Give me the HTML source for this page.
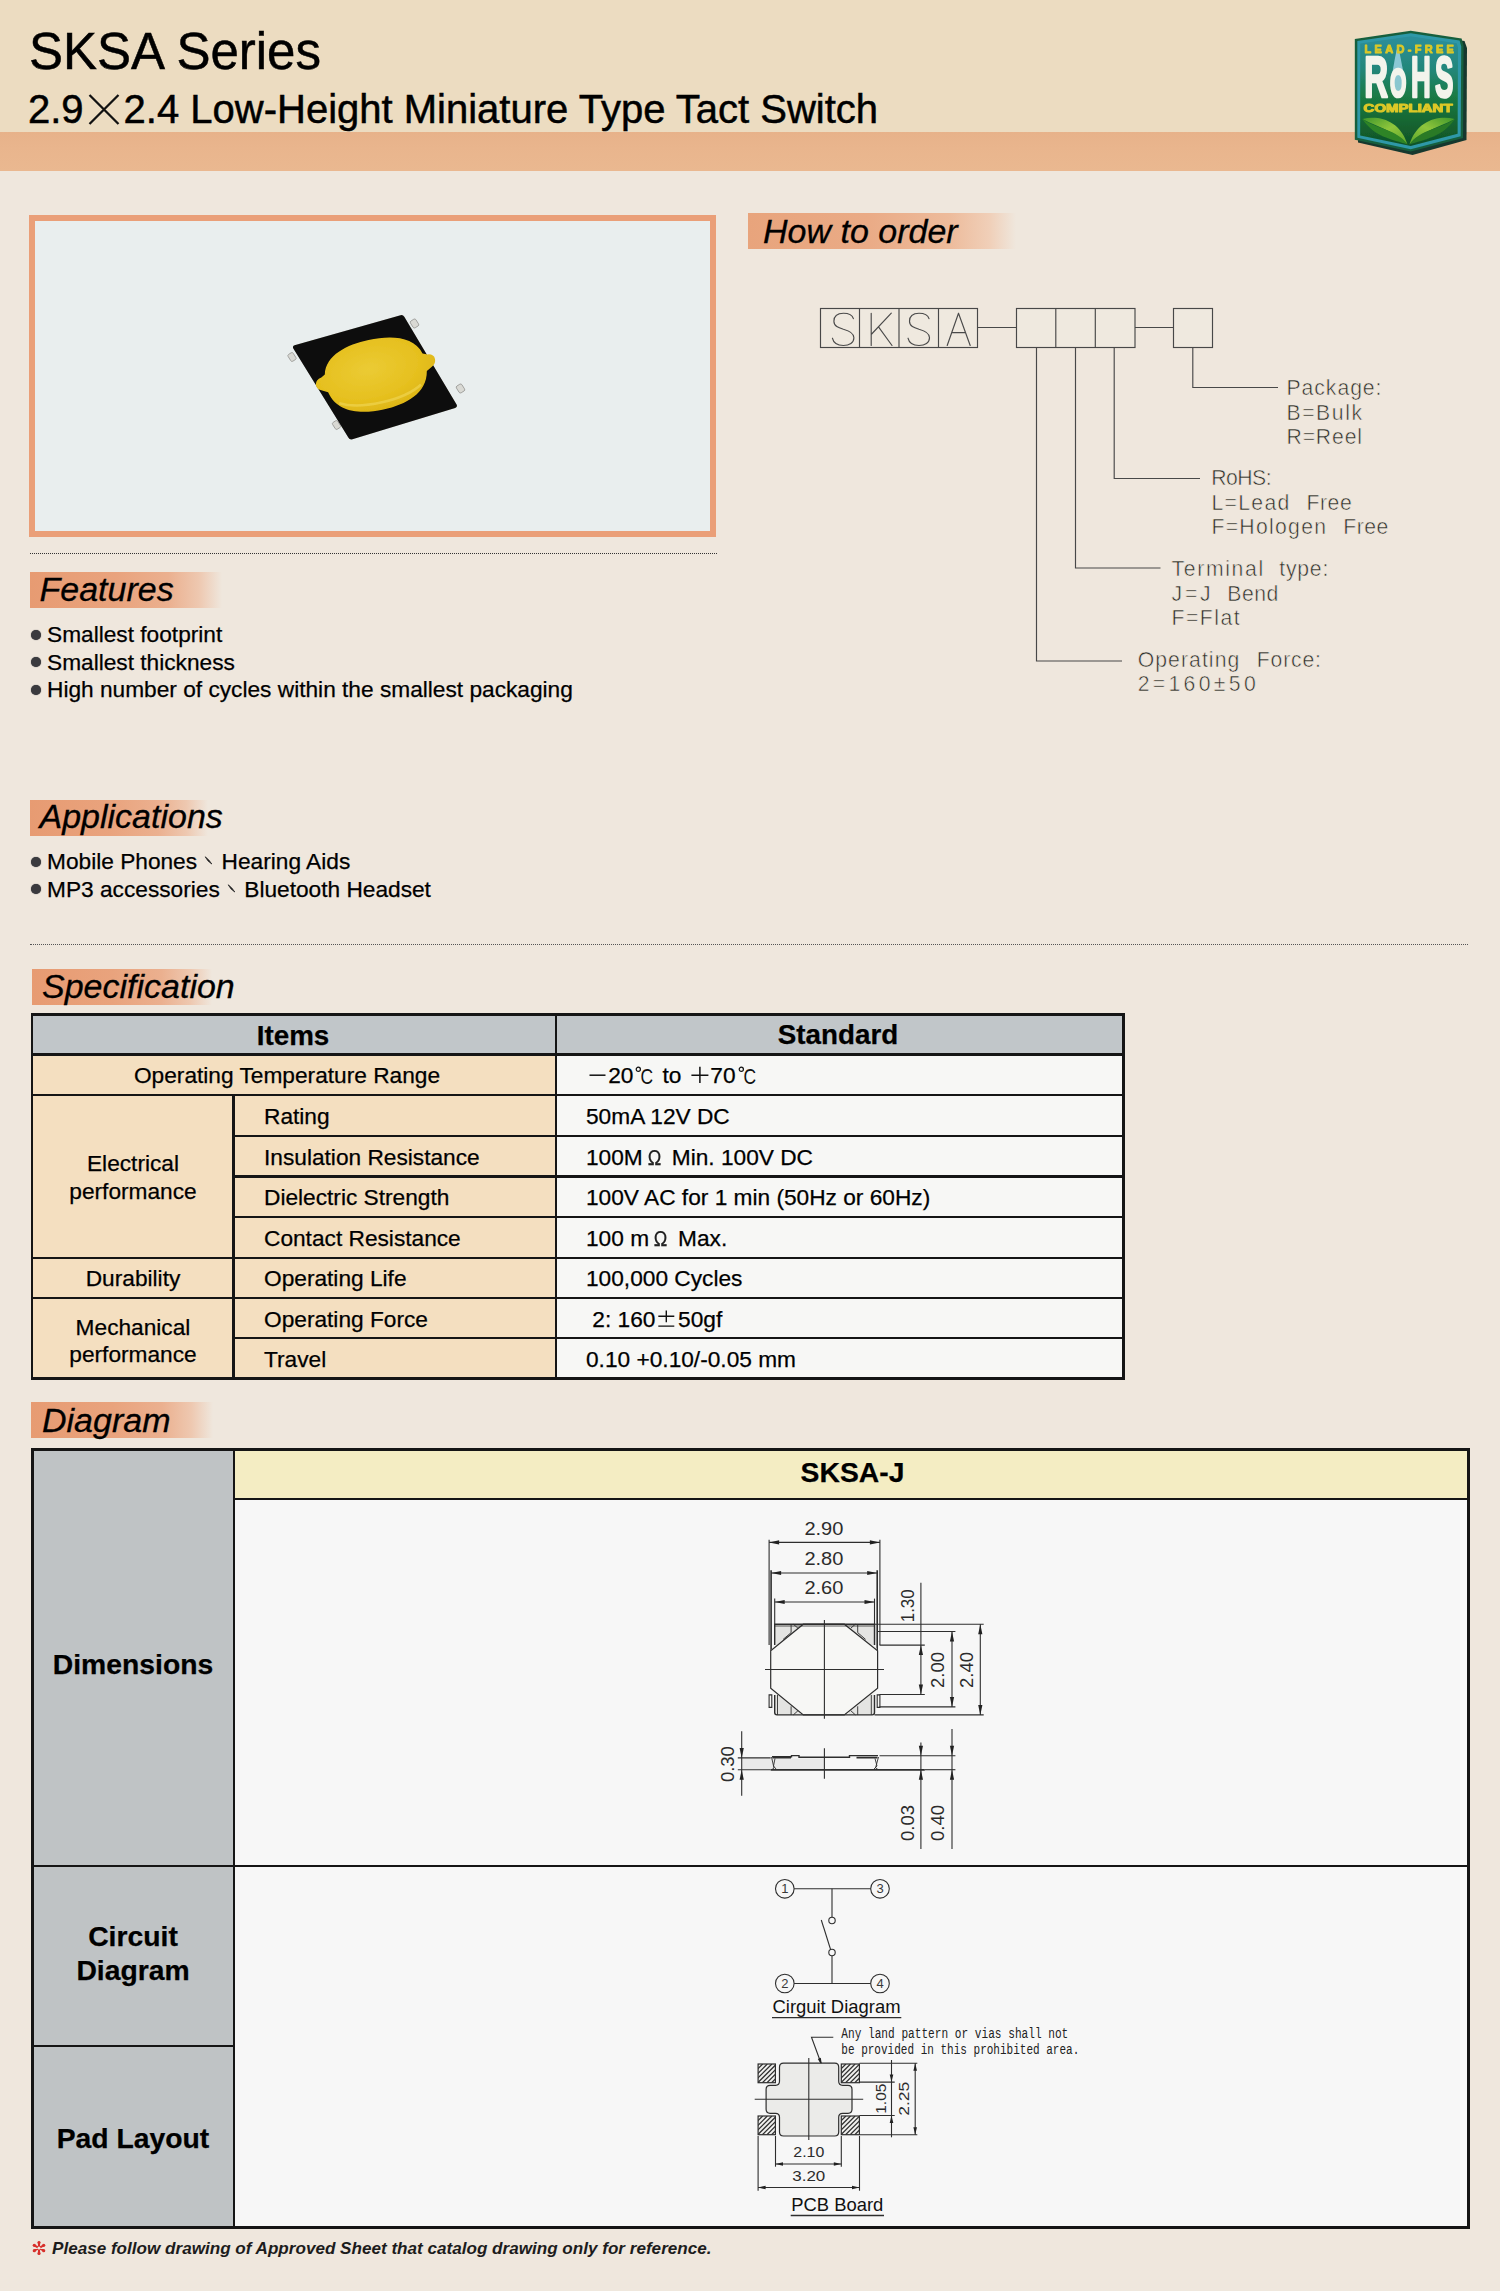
<!DOCTYPE html>
<html>
<head>
<meta charset="utf-8">
<title>SKSA Series</title>
<style>
html,body{margin:0;padding:0;}
body{width:1500px;height:2291px;position:relative;overflow:hidden;background:#efe7dd;font-family:"Liberation Sans",sans-serif;color:#000;}
.abs{position:absolute;}
.t{position:absolute;white-space:nowrap;line-height:1;}
#title,#sub{-webkit-text-stroke:0.5px #000;}
.bul,.st{-webkit-text-stroke:0.25px #000;}
.topbg{left:0;top:0;width:1500px;height:133px;background:#ecdcc1;}
.band{left:0;top:132px;width:1500px;height:38.5px;background:linear-gradient(#e7b28a,#e9b58d 40%,#eab890);}
.sec{position:absolute;height:36px;background:linear-gradient(90deg,#e79b72 0%,#e9a37d 45%,#ebb08f 72%,#eec8b0 88%,rgba(239,231,221,0) 100%);}
.sec span{position:absolute;left:10px;top:0;font-style:italic;font-size:34px;line-height:36px;white-space:nowrap;color:#000;-webkit-text-stroke:0.3px #000;}
.hr{position:absolute;height:0;border-top:1.6px dotted #333;}
.bul{position:absolute;font-size:22.7px;line-height:1;white-space:nowrap;}
.bul i{position:absolute;left:-16.5px;top:6.5px;width:10px;height:10px;border-radius:50%;background:#3a3a3e;box-shadow:0 0 1px #3a3a3e;}
/* spec table */
.cell{position:absolute;box-sizing:border-box;}
.st{position:absolute;white-space:nowrap;font-size:21.3px;line-height:1;}
.ln{position:absolute;background:#1a1a1a;}
</style>
</head>
<body>
<div class="abs topbg"></div>
<div class="abs band"></div>

<!-- TITLE -->
<div class="t" id="title" style="left:29px;top:25.5px;font-size:51px;">SKSA Series</div>
<div class="t" id="sub" style="left:28px;top:88.5px;font-size:40px;">2.9<svg width="40" height="34" viewBox="0 0 40 34" style="display:inline-block;vertical-align:baseline;margin-bottom:-3px;"><path d="M5.5 3L34.5 32M34.5 3L5.5 32" stroke="#111" stroke-width="2.3" fill="none"/></svg>2.4 Low-Height Miniature Type Tact Switch</div>

<!-- PHOTO BOX -->
<div class="abs" style="left:29px;top:214.5px;width:687px;height:322px;box-sizing:border-box;border:6px solid #ea9f78;background:#e9eeee;"></div>
<div class="hr" style="left:30px;top:553.2px;width:687px;"></div>

<!-- SECTION HEADERS -->
<div class="sec" style="left:748px;top:213px;width:268px;background:linear-gradient(90deg,#e8a47c 0%,#eaab86 45%,#edbb9b 75%,#f0cfb8 90%,rgba(239,231,221,0) 100%);"><span style="left:15px">How to order</span></div>
<div class="sec" style="left:29.5px;top:572px;width:192px;"><span style="top:-1.2px">Features</span></div>
<div class="sec" style="left:30px;top:800px;width:178px;"><span style="top:-2.2px;left:9.5px">Applications</span></div>
<div class="sec" style="left:32px;top:968.5px;width:180px;"><span style="top:-0.3px">Specification</span></div>
<div class="sec" style="left:31px;top:1402px;width:182px;"><span style="left:11px">Diagram</span></div>

<!-- FEATURES -->
<div class="bul" style="left:47px;top:623px;"><i></i>Smallest footprint</div>
<div class="bul" style="left:47px;top:650.5px;"><i></i>Smallest thickness</div>
<div class="bul" style="left:47px;top:678px;"><i></i>High number of cycles within the smallest packaging</div>
<div class="bul" style="left:47px;top:850px;"><i></i>Mobile Phones<svg width="24.5" height="17" style="display:inline-block;vertical-align:baseline;"><path d="M8.2 4.8Q12 7.5 14.8 12Q10.5 9.5 8.2 4.8Z" fill="#222" stroke="#222" stroke-width="0.8" stroke-linejoin="round"/></svg>Hearing Aids</div>
<div class="bul" style="left:47px;top:877.5px;"><i></i>MP3 accessories<svg width="24.5" height="17" style="display:inline-block;vertical-align:baseline;"><path d="M8.2 4.8Q12 7.5 14.8 12Q10.5 9.5 8.2 4.8Z" fill="#222" stroke="#222" stroke-width="0.8" stroke-linejoin="round"/></svg>Bluetooth Headset</div>

<div class="hr" style="left:30px;top:944.2px;width:1438px;border-top-width:1.3px;border-top-color:#555;"></div>

<!-- SPEC TABLE -->
<div id="spec">
<div class="abs" style="left:30.5px;top:1013px;width:1094.5px;height:367.3px;background:#151515;"></div>
<div class="abs" style="left:33.0px;top:1016.0px;width:521.8px;height:37.4px;background:#c1c6c9;"></div>
<div class="abs" style="left:557.0px;top:1016.0px;width:565.0px;height:37.4px;background:#c1c6c9;"></div>
<div class="abs" style="left:33.0px;top:1055.6px;width:521.8px;height:38.3px;background:#f4dfc0;"></div>
<div class="abs" style="left:33.0px;top:1096.1px;width:199.3px;height:160.6px;background:#f4dfc0;"></div>
<div class="abs" style="left:33.0px;top:1258.9px;width:199.3px;height:38.3px;background:#f4dfc0;"></div>
<div class="abs" style="left:33.0px;top:1299.4px;width:199.3px;height:78.1px;background:#f4dfc0;"></div>
<div class="abs" style="left:234.5px;top:1096.1px;width:320.3px;height:38.8px;background:#f4dfc0;"></div>
<div class="abs" style="left:234.5px;top:1137.1px;width:320.3px;height:38.3px;background:#f4dfc0;"></div>
<div class="abs" style="left:234.5px;top:1177.6px;width:320.3px;height:38.3px;background:#f4dfc0;"></div>
<div class="abs" style="left:234.5px;top:1218.1px;width:320.3px;height:38.6px;background:#f4dfc0;"></div>
<div class="abs" style="left:234.5px;top:1258.9px;width:320.3px;height:38.3px;background:#f4dfc0;"></div>
<div class="abs" style="left:234.5px;top:1299.4px;width:320.3px;height:37.3px;background:#f4dfc0;"></div>
<div class="abs" style="left:234.5px;top:1338.9px;width:320.3px;height:38.6px;background:#f4dfc0;"></div>
<div class="abs" style="left:557.0px;top:1055.6px;width:565.0px;height:38.3px;background:#f7f7f5;"></div>
<div class="abs" style="left:557.0px;top:1096.1px;width:565.0px;height:38.8px;background:#f7f7f5;"></div>
<div class="abs" style="left:557.0px;top:1137.1px;width:565.0px;height:38.3px;background:#f7f7f5;"></div>
<div class="abs" style="left:557.0px;top:1177.6px;width:565.0px;height:38.3px;background:#f7f7f5;"></div>
<div class="abs" style="left:557.0px;top:1218.1px;width:565.0px;height:38.6px;background:#f7f7f5;"></div>
<div class="abs" style="left:557.0px;top:1258.9px;width:565.0px;height:38.3px;background:#f7f7f5;"></div>
<div class="abs" style="left:557.0px;top:1299.4px;width:565.0px;height:37.3px;background:#f7f7f5;"></div>
<div class="abs" style="left:557.0px;top:1338.9px;width:565.0px;height:38.6px;background:#f7f7f5;"></div>
<div class="st"  style="top:1021.6px;font-size:27.8px;font-weight:bold;left:-7px;width:600px;text-align:center;">Items</div>
<div class="st"  style="top:1021.2px;font-size:27.8px;font-weight:bold;left:538px;width:600px;text-align:center;">Standard</div>
<div class="st" id="otr" style="top:1063.5px;font-size:22.7px;left:-13px;width:600px;text-align:center;">Operating Temperature Range</div>
<div class="st"  style="top:1152.2px;font-size:22.7px;left:-167px;width:600px;text-align:center;">Electrical</div>
<div class="st"  style="top:1179.7px;font-size:22.7px;left:-167px;width:600px;text-align:center;">performance</div>
<div class="st"  style="top:1266.5px;font-size:22.7px;left:-167px;width:600px;text-align:center;">Durability</div>
<div class="st"  style="top:1315.8px;font-size:22.7px;left:-167px;width:600px;text-align:center;">Mechanical</div>
<div class="st"  style="top:1342.7px;font-size:22.7px;left:-167px;width:600px;text-align:center;">performance</div>
<div class="st"  style="top:1105.1px;font-size:22.7px;left:264px;">Rating</div>
<div class="st"  style="top:1145.7px;font-size:22.7px;left:264px;">Insulation Resistance</div>
<div class="st"  style="top:1186.3px;font-size:22.7px;left:264px;">Dielectric Strength</div>
<div class="st"  style="top:1226.9px;font-size:22.7px;left:264px;">Contact Resistance</div>
<div class="st"  style="top:1267.1px;font-size:22.7px;left:264px;">Operating Life</div>
<div class="st"  style="top:1307.7px;font-size:22.7px;left:264px;">Operating Force</div>
<div class="st"  style="top:1347.8px;font-size:22.7px;left:264px;">Travel</div>
<div class="st" id="std0" style="top:1063.5px;font-size:22.7px;left:585.5px;"><svg width="22.7" height="17" style="display:inline-block;vertical-align:baseline;"><path d="M3.5 9.2H19.5" stroke="#111" stroke-width="1.5"/></svg>20<svg width="22.7" height="17.4" style="display:inline-block;vertical-align:baseline;overflow:visible"><circle cx="5.3" cy="4.3" r="2.1" fill="none" stroke="#111" stroke-width="1.2"/><text x="7.4" y="18.7" font-family="Liberation Sans, sans-serif" font-size="22.7" fill="#111" textLength="12.6" lengthAdjust="spacingAndGlyphs">C</text></svg> to <svg width="22.7" height="17" style="display:inline-block;vertical-align:baseline;"><path d="M3.4 9.2H20.4M11.9 0.8V17.6" stroke="#111" stroke-width="1.5"/></svg>70<svg width="22.7" height="17.4" style="display:inline-block;vertical-align:baseline;overflow:visible"><circle cx="5.3" cy="4.3" r="2.1" fill="none" stroke="#111" stroke-width="1.2"/><text x="7.4" y="18.7" font-family="Liberation Sans, sans-serif" font-size="22.7" fill="#111" textLength="12.6" lengthAdjust="spacingAndGlyphs">C</text></svg></div>
<div class="st" id="std1" style="top:1105.1px;font-size:22.7px;left:586px;">50mA 12V DC</div>
<div class="st" id="std2" style="top:1145.7px;font-size:22.7px;left:586px;">100M<span style="display:inline-block;width:22.7px;text-align:center;"><span style="display:inline-block;transform:scaleX(.8);color:#222;">Ω</span></span> Min. 100V DC</div>
<div class="st" id="std3" style="top:1186.3px;font-size:22.7px;left:586px;">100V AC for 1 min (50Hz or 60Hz)</div>
<div class="st" id="std4" style="top:1226.9px;font-size:22.7px;left:586px;">100 m<span style="display:inline-block;width:22.7px;text-align:center;"><span style="display:inline-block;transform:scaleX(.8);color:#222;">Ω</span></span> Max.</div>
<div class="st" id="std5" style="top:1267.1px;font-size:22.7px;left:586px;">100,000 Cycles</div>
<div class="st" id="std6" style="top:1307.7px;font-size:22.7px;left:586px;">&nbsp;2: 160<svg width="22.7" height="17" style="display:inline-block;vertical-align:baseline;"><path d="M3.3 6.2H19.3M11.3 0.4V12.2M3.3 16.1H19.3" stroke="#111" stroke-width="1.4" fill="none"/></svg>50gf</div>
<div class="st" id="std7" style="top:1347.8px;font-size:22.7px;left:586px;">0.10 +0.10/-0.05 mm</div>
</div>

<!-- DIAGRAM TABLE -->
<div id="diag">
<div class="abs" style="left:31px;top:1447.5px;width:1439.0px;height:781.5px;background:#151515;"></div>
<div class="abs" style="left:34px;top:1450.5px;width:198.8px;height:414.3px;background:#bfc3c5;"></div>
<div class="abs" style="left:34px;top:1866.6px;width:198.8px;height:178.4px;background:#bfc3c5;"></div>
<div class="abs" style="left:34px;top:2046.8px;width:198.8px;height:179.2px;background:#bfc3c5;"></div>
<div class="abs" style="left:235.2px;top:1450.5px;width:1231.8px;height:47.9px;background:#f4edc3;"></div>
<div class="abs" style="left:235.2px;top:1500.4px;width:1231.8px;height:364.4px;background:#f7f7f7;"></div>
<div class="abs" style="left:235.2px;top:1866.6px;width:1231.8px;height:359.4px;background:#f7f7f7;"></div>
<div class="st" style="left:552.5px;width:600px;text-align:center;top:1458.4px;font-size:28.3px;font-weight:bold;">SKSA-J</div>
<div class="st" style="left:-167px;width:600px;text-align:center;top:1650px;font-size:28.3px;font-weight:bold;">Dimensions</div>
<div class="st" style="left:-167px;width:600px;text-align:center;top:1922px;font-size:28.3px;font-weight:bold;">Circuit</div>
<div class="st" style="left:-167px;width:600px;text-align:center;top:1956px;font-size:28.3px;font-weight:bold;">Diagram</div>
<div class="st" style="left:-167px;width:600px;text-align:center;top:2123.5px;font-size:28.3px;font-weight:bold;">Pad Layout</div>
</div>

<svg class="abs" id="ov" style="left:0;top:0;" width="1500" height="2291" viewBox="0 0 1500 2291">
<!-- HOW TO ORDER -->
<g id="order" fill="none" stroke="#484848" stroke-width="1.15">
<rect x="820.5" y="308.5" width="157" height="39" fill="#efe9df"/>
<path d="M859.5 308.5V347.5M899 308.5V347.5M938.5 308.5V347.5"/>
<path d="M977.5 327.5H1016.5M1135 327.5H1173.5"/>
<rect x="1016.5" y="308.5" width="118.5" height="39" fill="#efe9df"/>
<path d="M1055.8 308.5V347.5M1095.3 308.5V347.5"/>
<rect x="1173.5" y="308.5" width="39" height="39" fill="#efe9df"/>
<path d="M1192.8 347.5V387.5H1278"/>
<path d="M1114.2 347.5V478.5H1200"/>
<path d="M1075.5 347.5V568H1160.5"/>
<path d="M1036.5 347.5V661H1122"/>
</g>
<g id="ordertxt" font-family="Liberation Sans, sans-serif" font-size="21.2" fill="#2a2a2a" stroke="#efe7dd" stroke-width="0.55" paint-order="fill stroke">
<g fill="none" stroke="#4a4a4a" stroke-width="1.15" stroke-linecap="round" stroke-linejoin="round">
<path transform="translate(832.4 313.2)" d="M21,5.5 C20,2 16,0 11,0 C5,0 1.5,3 1.5,8 C1.5,13 6,14.5 11,16 C17,17.6 21.5,19.5 21.5,24.5 C21.5,29.5 17,32.3 11,32.3 C5,32.3 1,29.5 0,25"/>
<path d="M871.2 313.2V345.5M891.3 313.2L871.2 334.5M878.5 326.8L892 345.5"/>
<path transform="translate(908 313.2)" d="M21,5.5 C20,2 16,0 11,0 C5,0 1.5,3 1.5,8 C1.5,13 6,14.5 11,16 C17,17.6 21.5,19.5 21.5,24.5 C21.5,29.5 17,32.3 11,32.3 C5,32.3 1,29.5 0,25"/>
<path d="M947.2 345.5L958.5 313.2L970.2 345.5M951.6 332.6H965.6"/>
</g>
<text x="1286.5" y="395.2" textLength="95" lengthAdjust="spacing">Package:</text>
<text x="1286.5" y="419.7" textLength="75.5" lengthAdjust="spacing">B=Bulk</text>
<text x="1286.5" y="444.2" textLength="75.5" lengthAdjust="spacing">R=Reel</text>
<text x="1211.3" y="484.8" textLength="60.3" lengthAdjust="spacing">RoHS:</text>
<text x="1211.5" y="510" textLength="77.8" lengthAdjust="spacing">L=Lead</text><text x="1306.5" y="510" textLength="45.2" lengthAdjust="spacing">Free</text>
<text x="1211.5" y="534.2" textLength="114.5" lengthAdjust="spacing">F=Hologen</text><text x="1343.2" y="534.2" textLength="45.2" lengthAdjust="spacing">Free</text>
<text x="1171.6" y="576.3" textLength="91.6" lengthAdjust="spacing">Terminal</text><text x="1279.3" y="576.3" textLength="49" lengthAdjust="spacing">type:</text>
<text x="1171.6" y="600.8" textLength="39" lengthAdjust="spacing">J=J</text><text x="1227.3" y="600.8" textLength="51" lengthAdjust="spacing">Bend</text>
<text x="1171.4" y="624.9" textLength="68.3" lengthAdjust="spacing">F=Flat</text>
<text x="1137.7" y="666.9" textLength="101.6" lengthAdjust="spacing">Operating</text><text x="1256.7" y="666.9" textLength="64.3" lengthAdjust="spacing">Force:</text>
<text x="1137.7" y="691" textLength="118" lengthAdjust="spacing">2=160±50</text>
</g>

<!-- PHOTO -->
<defs>
<radialGradient id="dome" cx="0.45" cy="0.4" r="0.7">
<stop offset="0" stop-color="#ebcb34"/><stop offset="0.6" stop-color="#e6c01f"/><stop offset="1" stop-color="#dbb214"/>
</radialGradient>
<filter id="soft" x="-10%" y="-10%" width="120%" height="120%"><feGaussianBlur stdDeviation="0.7"/></filter>
</defs>
<g id="photo" filter="url(#soft)">
<!-- terminals -->
<g fill="#d9d9d4" stroke="#9a9a96" stroke-width="0.8">
<rect x="-4" y="-3.2" width="8" height="6.4" rx="1.5" transform="translate(414.5 323.5) rotate(58)"/>
<rect x="-4" y="-3" width="8" height="6" rx="1.5" transform="translate(292 357) rotate(58)"/>
<rect x="-4" y="-3.2" width="8" height="6.4" rx="1.5" transform="translate(460.5 388.5) rotate(58)"/>
<rect x="-4" y="-3" width="8" height="6" rx="1.5" transform="translate(336.5 425) rotate(58)"/>
</g>
<path d="M294.5 345.2 L400.5 315.2 Q403 314.6 404.3 316.8 L456.6 404.6 Q457.8 407 455.2 407.9 L352.5 439.3 Q349.6 440 348.3 437.6 L293.3 348.6 Q292.2 346 294.5 345.2Z" fill="#0c0a08"/>
<!-- dome -->
<g transform="translate(376 374.8) rotate(-12.2)">
<path d="M-61,-3 Q-60,-8 -54,-9 L-50,-11 C-45,-30 -22,-35.5 0,-35.5 C22,-35.5 45,-30 50,-11 L55,-9 Q61,-8 61,-3 Q61,2 56,4 L50.5,7 C46,29 23,35.5 0,35.5 C-23,35.5 -46,29 -50.5,7 L-56,4 Q-61,2 -61,-3Z" fill="url(#dome)"/>
<path d="M-42 20 C-22 31 22 31 42 19" fill="none" stroke="#f0d654" stroke-width="2.5" opacity="0.65"/>
</g>
</g>

<!-- ROHS BADGE -->
<defs>
<linearGradient id="rg" x1="0" y1="0" x2="0" y2="1">
<stop offset="0" stop-color="#2b8e9c"/><stop offset="0.3" stop-color="#23877a"/><stop offset="0.55" stop-color="#1a7a44"/><stop offset="0.8" stop-color="#146430"/><stop offset="1" stop-color="#0f5228"/>
</linearGradient>
<linearGradient id="leaf" x1="0" y1="0" x2="1" y2="1">
<stop offset="0" stop-color="#3f962a"/><stop offset="0.5" stop-color="#8fc63c"/><stop offset="1" stop-color="#5aa52c"/>
</linearGradient>
<linearGradient id="leaf2" x1="1" y1="0" x2="0" y2="1">
<stop offset="0" stop-color="#3f962a"/><stop offset="0.5" stop-color="#8fc63c"/><stop offset="1" stop-color="#5aa52c"/>
</linearGradient>
<filter id="soft2" x="-10%" y="-10%" width="120%" height="120%"><feGaussianBlur stdDeviation="0.55"/></filter>
</defs>
<g id="rohs" filter="url(#soft2)">
<path d="M1358 41.5 L1412 33.5 L1464.5 41 L1467 48 L1466.5 140 L1412.5 155 L1358 142.5Z" fill="#15382f"/>
<path d="M1354.8 39 L1410.7 30.8 L1461.6 38.4 L1463.6 46 L1463 138 L1410.7 151.6 L1354.8 139.8Z" fill="#175f3e"/>
<path d="M1357.3 41 L1410.7 33.2 L1459.6 40.6 L1461.2 46.6 L1460.7 136.2 L1410.7 149.2 L1357.3 137.8Z" fill="#2f98a8"/>
<path d="M1360.2 43.6 L1410.7 36.2 L1456.8 43.2 L1458 47.8 L1457.6 133.8 L1410.7 146 L1360.2 135.4Z" fill="url(#rg)"/>
<path d="M1390.5 86 Q1392.5 70 1396.6 50 Q1397.8 47 1399 50 Q1403 70 1406 86 Q1398 97 1390.5 86Z" fill="#9ed4e4" opacity="0.85"/>
<g font-family="Liberation Sans, sans-serif" font-weight="bold">
<text x="1364.6" y="52.5" font-size="11" fill="#dcc828" stroke="#dcc828" stroke-width="0.9" stroke-linejoin="round" textLength="89.3" lengthAdjust="spacing">LEAD-FREE</text>
<g font-size="56.5" fill="#f3f4ec" stroke="#f3f4ec" stroke-width="2.6" stroke-linejoin="round">
<text x="1364.2" y="97.3" textLength="23.8" lengthAdjust="spacingAndGlyphs">R</text>
<text x="1390" y="96.8" font-size="40" textLength="16.4" lengthAdjust="spacingAndGlyphs">O</text>
<text x="1411" y="97.3" textLength="19.8" lengthAdjust="spacingAndGlyphs">H</text>
<text x="1435" y="97.3" textLength="18.4" lengthAdjust="spacingAndGlyphs">S</text>
</g>
<text x="1363.6" y="112.3" font-size="10.8" fill="#dcc828" stroke="#dcc828" stroke-width="1" stroke-linejoin="round" textLength="89" lengthAdjust="spacingAndGlyphs">COMPLIANT</text>
</g>
<path d="M1362.4 119 C1380 115 1400 121 1407.5 144.5 C1397 132 1380 128 1362.4 119Z" fill="url(#leaf)"/>
<path d="M1362.4 119 C1376 129 1397 129 1407.5 144.5 C1393 139.5 1374 137 1362.4 119Z" fill="#2f8427"/>
<path d="M1454.8 119 C1437 115 1417 121 1409.5 144.5 C1420 132 1437 128 1454.8 119Z" fill="url(#leaf2)"/>
<path d="M1454.8 119 C1441 129 1420 129 1409.5 144.5 C1424 139.5 1443 137 1454.8 119Z" fill="#2a7a25"/>
</g>


<!--DIMS_S--><!-- DIMENSIONS -->
<g id="dims" fill="none" stroke="#2e2e2e" stroke-width="1.1" font-family="Liberation Sans, sans-serif" font-size="19">
<path d="M769.1 1539.7L769.1 1645.1"/>
<path d="M879.9 1539.7L879.9 1645.1"/>
<path d="M771.1 1570.3L771.1 1650.7" stroke-width="1.6"/>
<path d="M877.2 1570.3L877.2 1650.7" stroke-width="1.6"/>
<path d="M774.7 1598.6L774.7 1645.1"/>
<path d="M874.5 1598.6L874.5 1645.1"/>
<path d="M769.1 1542.4L879.9 1542.4"/>
<path d="M769.1 1542.4L779.1 1540.3L779.1 1544.5Z" fill="#222" stroke="none"/>
<path d="M879.9 1542.4L869.9 1544.5L869.9 1540.3Z" fill="#222" stroke="none"/>
<path d="M771.1 1573.0L877.2 1573.0"/>
<path d="M771.1 1573.0L781.1 1570.9L781.1 1575.1Z" fill="#222" stroke="none"/>
<path d="M877.2 1573.0L867.2 1575.1L867.2 1570.9Z" fill="#222" stroke="none"/>
<path d="M774.7 1602.0L874.5 1602.0"/>
<path d="M774.7 1602.0L784.7 1599.9L784.7 1604.1Z" fill="#222" stroke="none"/>
<path d="M874.5 1602.0L864.5 1604.1L864.5 1599.9Z" fill="#222" stroke="none"/>
<path d="M774.7 1624.2H874.5V1645.1L877.6 1650.7V1688.1L874.5 1694.9V1714.9H774.7V1694.9L770.7 1688.1V1650.7L774.7 1645.1Z" fill="#f4f4f2" stroke="none"/>
<rect x="774.7" y="1624.2" width="25.4" height="20.9" fill="#e4e4e2" stroke="none"/>
<rect x="848.9" y="1624.2" width="25.6" height="20.9" fill="#e4e4e2" stroke="none"/>
<rect x="774.7" y="1694.9" width="25.4" height="19.9" fill="#e4e4e2" stroke="none"/>
<rect x="848.9" y="1694.9" width="25.6" height="19.9" fill="#e4e4e2" stroke="none"/>
<path d="M803.3 1624.2H844.3L877.6 1650.7V1688.1L844.3 1714.9H803.3L770.7 1688.1V1650.7Z" fill="#f7f7f5" stroke="#2e2e2e" stroke-width="1.2"/>
<path d="M774.7 1645.1V1624.2H874.5V1645.1M874.5 1694.9V1712.6Q874.5 1714.9 872.2 1714.9H777.0Q774.7 1714.9 774.7 1712.6V1694.9" stroke-width="1.4"/>
<path d="M774.7 1626.0L874.5 1626.0" stroke-width="0.8"/>
<path d="M791.1 1624.2L791.1 1632.6" stroke-width="0.9"/>
<path d="M791.1 1632.6L783.1 1639.4" stroke-width="0.9"/>
<path d="M793.3 1624.2L797.9 1628.1" stroke-width="0.9"/>
<path d="M791.1 1714.9L791.1 1706.3" stroke-width="0.9"/>
<path d="M793.3 1714.9L797.9 1710.8" stroke-width="0.9"/>
<path d="M777.5 1694.9L777.5 1714.9" stroke-width="0.9"/>
<path d="M857.7 1624.2L857.7 1632.6" stroke-width="0.9"/>
<path d="M857.7 1632.6L865.6 1639.4" stroke-width="0.9"/>
<path d="M855.4 1624.2L850.9 1628.1" stroke-width="0.9"/>
<path d="M857.7 1714.9L857.7 1706.3" stroke-width="0.9"/>
<path d="M855.4 1714.9L850.9 1710.8" stroke-width="0.9"/>
<path d="M871.3 1694.9L871.3 1714.9" stroke-width="0.9"/>
<path d="M769.1 1694.9H771.8V1707.4H769.1Z" fill="#f7f7f5"/>
<path d="M877.2 1694.9H879.9V1707.4H877.2Z" fill="#f7f7f5"/>
<path d="M824.4 1620.1L824.4 1718.7"/>
<path d="M765.0 1669.5L884.0 1669.5"/>
<path d="M874.5 1624.2L983.7 1624.2"/>
<path d="M877.6 1631.5L955.4 1631.5"/>
<path d="M879.5 1645.1L924.8 1645.1"/>
<path d="M879.5 1694.5L924.8 1694.5"/>
<path d="M879.5 1706.9L955.4 1706.9"/>
<path d="M874.5 1714.9L983.7 1714.9"/>
<path d="M920.9 1582.7L920.9 1645.1"/>
<path d="M920.9 1645.1L920.9 1694.5"/>
<path d="M920.9 1645.1L923.0 1655.1L918.8 1655.1Z" fill="#222" stroke="none"/>
<path d="M920.9 1694.5L918.8 1684.5L923.0 1684.5Z" fill="#222" stroke="none"/>
<path d="M952.0 1631.5L952.0 1706.9"/>
<path d="M952.0 1631.5L954.1 1641.5L949.9 1641.5Z" fill="#222" stroke="none"/>
<path d="M952.0 1706.9L949.9 1696.9L954.1 1696.9Z" fill="#222" stroke="none"/>
<path d="M980.3 1624.2L980.3 1714.9"/>
<path d="M980.3 1624.2L982.4 1634.2L978.2 1634.2Z" fill="#222" stroke="none"/>
<path d="M980.3 1714.9L978.2 1704.9L982.4 1704.9Z" fill="#222" stroke="none"/>
<rect x="742" y="1758.5" width="82" height="10.5" fill="#e9e9e9" stroke="none"/>
<path d="M772 1756.8H791.5V1755.6H799V1757.3H849.5V1755.6H856H878" stroke-width="1.4"/>
<path d="M772.5 1757.6H791M856.5 1757.6H877.5" stroke-width="1.6"/>
<path d="M771.5 1757L774 1768L772 1769.5M775 1758.5L773.5 1766L776 1769M878.5 1757L875.5 1768L878 1769.5M875 1758.5L877 1766L874 1769" stroke-width="0.9"/>
<path d="M770.7 1769.9L924.8 1769.9" stroke-width="1.8"/>
<path d="M737.8 1757.9L770.7 1757.9"/>
<path d="M737.8 1769.7L770.7 1769.7"/>
<path d="M741.7 1731.2L741.7 1795.8"/>
<path d="M741.7 1757.9L739.6 1747.9L743.8 1747.9Z" fill="#222" stroke="none"/>
<path d="M741.7 1769.7L743.8 1779.7L739.6 1779.7Z" fill="#222" stroke="none"/>
<path d="M824.4 1748.2L824.4 1778.8"/>
<path d="M879.5 1755.7L955.4 1755.7"/>
<path d="M924.8 1769.7L955.4 1769.7"/>
<path d="M920.9 1742.5L920.9 1849.0"/>
<path d="M952.0 1728.9L952.0 1849.0"/>
<path d="M920.9 1755.7L918.8 1745.7L923.0 1745.7Z" fill="#222" stroke="none"/>
<path d="M920.9 1769.7L923.0 1779.7L918.8 1779.7Z" fill="#222" stroke="none"/>
<path d="M952.0 1755.7L949.9 1745.7L954.1 1745.7Z" fill="#222" stroke="none"/>
<path d="M952.0 1769.7L954.1 1779.7L949.9 1779.7Z" fill="#222" stroke="none"/>
<g fill="#2c2c2c" stroke="none">
<text x="823.9" y="1535.1" text-anchor="middle" textLength="39" lengthAdjust="spacingAndGlyphs">2.90</text>
<text x="823.9" y="1565.3" text-anchor="middle" textLength="39" lengthAdjust="spacingAndGlyphs">2.80</text>
<text x="823.9" y="1594.1" text-anchor="middle" textLength="39" lengthAdjust="spacingAndGlyphs">2.60</text>
<text transform="translate(913.5 1605.8) rotate(-90)" text-anchor="middle" textLength="33" lengthAdjust="spacingAndGlyphs">1.30</text>
<text transform="translate(944.1 1670.0) rotate(-90)" text-anchor="middle" textLength="36" lengthAdjust="spacingAndGlyphs">2.00</text>
<text transform="translate(972.8 1670.0) rotate(-90)" text-anchor="middle" textLength="36" lengthAdjust="spacingAndGlyphs">2.40</text>
<text transform="translate(733.7 1764.1) rotate(-90)" text-anchor="middle" textLength="36" lengthAdjust="spacingAndGlyphs">0.30</text>
<text transform="translate(913.5 1823.0) rotate(-90)" text-anchor="middle" textLength="36" lengthAdjust="spacingAndGlyphs">0.03</text>
<text transform="translate(944.1 1823.0) rotate(-90)" text-anchor="middle" textLength="36" lengthAdjust="spacingAndGlyphs">0.40</text>
</g>
</g>
<!--DIMS_E-->
<!--CIRCUIT_S--><!-- CIRCUIT+PAD -->
<g id="circ" fill="none" stroke="#2e2e2e" stroke-width="1.1" font-family="Liberation Sans, sans-serif">
<circle cx="784.8" cy="1888.8" r="9.3" fill="#f7f7f7"/>
<text x="784.8" y="1893.3999999999999" text-anchor="middle" font-size="13" fill="#3a3a3a" stroke="none">1</text>
<circle cx="880.0" cy="1888.8" r="9.3" fill="#f7f7f7"/>
<text x="880.0" y="1893.3999999999999" text-anchor="middle" font-size="13" fill="#3a3a3a" stroke="none">3</text>
<circle cx="784.8" cy="1983.5" r="9.3" fill="#f7f7f7"/>
<text x="784.8" y="1988.1" text-anchor="middle" font-size="13" fill="#3a3a3a" stroke="none">2</text>
<circle cx="880.0" cy="1983.5" r="9.3" fill="#f7f7f7"/>
<text x="880.0" y="1988.1" text-anchor="middle" font-size="13" fill="#3a3a3a" stroke="none">4</text>
<path d="M794.1 1888.8L870.7 1888.8"/>
<path d="M794.1 1983.5L870.7 1983.5"/>
<path d="M832.0 1888.8L832.0 1917.3"/>
<path d="M832.0 1956.0L832.0 1983.5"/>
<circle cx="832.0" cy="1920.5" r="3.2"/>
<circle cx="832.0" cy="1952.5" r="3.2"/>
<path d="M821.3 1920.0L830.7 1949.9"/>
<text x="836.5" y="2013.3" text-anchor="middle" font-size="18.6" fill="#111" stroke="none" textLength="128" lengthAdjust="spacingAndGlyphs">Cirguit Diagram</text>
<path d="M772.0 2017.6L901.3 2017.6" stroke-width="1.3"/>
<text x="837.3" y="2210.7" text-anchor="middle" font-size="18.6" fill="#111" stroke="none" textLength="92" lengthAdjust="spacingAndGlyphs">PCB Board</text>
<path d="M790.7 2215.5L884.0 2215.5" stroke-width="1.3"/>
<g font-family="Liberation Mono, monospace" font-size="14" fill="#222" stroke="none"><text x="841.3" y="2038.4" textLength="227" lengthAdjust="spacingAndGlyphs">Any land pattern or vias shall not</text><text x="841.3" y="2054.4" textLength="238" lengthAdjust="spacingAndGlyphs">be provided in this prohibited area.</text></g>
<path d="M833.3 2037.3H811.5L821.6 2064.8"/>
<path d="M822.1 2065.9L817.8 2058.9L820.8 2057.8Z" fill="#222" stroke="none"/>
<defs><pattern id="hatch" width="3.6" height="3.6" patternUnits="userSpaceOnUse" patternTransform="rotate(-45)"><rect width="3.6" height="3.6" fill="#f2f2f0"/><line x1="0" y1="0" x2="3.6" y2="0" stroke="#333" stroke-width="1.5"/></pattern></defs>
<clipPath id="cp0"><rect x="758.1" y="2064.0" width="17.3" height="18.7"/></clipPath>
<rect x="758.1" y="2064.0" width="17.3" height="18.7" fill="#f0f0ee" stroke="none"/>
<path d="M739.4 2082.7L758.1 2064.0M744.0 2082.7L762.7 2064.0M748.6 2082.7L767.3 2064.0M753.2 2082.7L771.9 2064.0M757.8 2082.7L776.5 2064.0M762.4 2082.7L781.1 2064.0M767.0 2082.7L785.7 2064.0M771.6 2082.7L790.3 2064.0M776.2 2082.7L794.9 2064.0M780.8 2082.7L799.5 2064.0M785.4 2082.7L804.1 2064.0M790.0 2082.7L808.7 2064.0" clip-path="url(#cp0)" stroke-width="1.3" stroke="#333"/>
<rect x="758.1" y="2064.0" width="17.3" height="18.7" stroke-width="1.2"/>
<clipPath id="cp1"><rect x="841.3" y="2064.0" width="18.1" height="18.7"/></clipPath>
<rect x="841.3" y="2064.0" width="18.1" height="18.7" fill="#f0f0ee" stroke="none"/>
<path d="M822.6 2082.7L841.3 2064.0M827.2 2082.7L845.9 2064.0M831.8 2082.7L850.5 2064.0M836.4 2082.7L855.1 2064.0M841.0 2082.7L859.7 2064.0M845.6 2082.7L864.3 2064.0M850.2 2082.7L868.9 2064.0M854.8 2082.7L873.5 2064.0M859.4 2082.7L878.1 2064.0M864.0 2082.7L882.7 2064.0M868.6 2082.7L887.3 2064.0M873.2 2082.7L891.9 2064.0M877.8 2082.7L896.5 2064.0" clip-path="url(#cp1)" stroke-width="1.3" stroke="#333"/>
<rect x="841.3" y="2064.0" width="18.1" height="18.7" stroke-width="1.2"/>
<clipPath id="cp2"><rect x="758.1" y="2116.0" width="17.3" height="18.7"/></clipPath>
<rect x="758.1" y="2116.0" width="17.3" height="18.7" fill="#f0f0ee" stroke="none"/>
<path d="M739.4 2134.7L758.1 2116.0M744.0 2134.7L762.7 2116.0M748.6 2134.7L767.3 2116.0M753.2 2134.7L771.9 2116.0M757.8 2134.7L776.5 2116.0M762.4 2134.7L781.1 2116.0M767.0 2134.7L785.7 2116.0M771.6 2134.7L790.3 2116.0M776.2 2134.7L794.9 2116.0M780.8 2134.7L799.5 2116.0M785.4 2134.7L804.1 2116.0M790.0 2134.7L808.7 2116.0" clip-path="url(#cp2)" stroke-width="1.3" stroke="#333"/>
<rect x="758.1" y="2116.0" width="17.3" height="18.7" stroke-width="1.2"/>
<clipPath id="cp3"><rect x="841.3" y="2116.0" width="18.1" height="18.7"/></clipPath>
<rect x="841.3" y="2116.0" width="18.1" height="18.7" fill="#f0f0ee" stroke="none"/>
<path d="M822.6 2134.7L841.3 2116.0M827.2 2134.7L845.9 2116.0M831.8 2134.7L850.5 2116.0M836.4 2134.7L855.1 2116.0M841.0 2134.7L859.7 2116.0M845.6 2134.7L864.3 2116.0M850.2 2134.7L868.9 2116.0M854.8 2134.7L873.5 2116.0M859.4 2134.7L878.1 2116.0M864.0 2134.7L882.7 2116.0M868.6 2134.7L887.3 2116.0M873.2 2134.7L891.9 2116.0M877.8 2134.7L896.5 2116.0" clip-path="url(#cp3)" stroke-width="1.3" stroke="#333"/>
<rect x="841.3" y="2116.0" width="18.1" height="18.7" stroke-width="1.2"/>
<path d="M783.5 2063.2H834.7Q838.7 2063.2 838.7 2067.2V2081.3Q838.7 2085.3 842.7 2085.3H848.0Q852.0 2085.3 852.0 2089.3V2109.3Q852.0 2113.3 848.0 2113.3H842.7Q838.7 2113.3 838.7 2117.3V2132.0Q838.7 2136.0 834.7 2136.0H783.5Q779.5 2136.0 779.5 2132.0V2117.3Q779.5 2113.3 775.5 2113.3H770.1Q766.1 2113.3 766.1 2109.3V2089.3Q766.1 2085.3 770.1 2085.3H775.5Q779.5 2085.3 779.5 2081.3V2067.2Q779.5 2063.2 783.5 2063.2Z" fill="#ebebe9" stroke-width="1.2"/>
<path d="M808.8 2057.9L808.8 2140.0"/>
<path d="M754.7 2099.2L863.2 2099.2"/>
<path d="M859.5 2063.2L917.3 2063.2"/>
<path d="M859.5 2082.1L894.7 2082.1"/>
<path d="M859.5 2115.5L894.7 2115.5"/>
<path d="M859.5 2134.7L917.3 2134.7"/>
<path d="M891.5 2060.0L891.5 2137.3"/>
<path d="M891.5 2082.1L889.7 2074.6L893.3 2074.6Z" fill="#222" stroke="none"/>
<path d="M891.5 2115.5L893.3 2123.0L889.7 2123.0Z" fill="#222" stroke="none"/>
<path d="M915.2 2063.2L915.2 2134.7"/>
<path d="M915.2 2063.2L917.0 2070.7L913.4 2070.7Z" fill="#222" stroke="none"/>
<path d="M915.2 2134.7L913.4 2127.2L917.0 2127.2Z" fill="#222" stroke="none"/>
<path d="M775.5 2136.0L775.5 2166.7"/>
<path d="M841.3 2136.0L841.3 2166.7"/>
<path d="M758.1 2136.0L758.1 2190.7"/>
<path d="M859.5 2136.0L859.5 2190.7"/>
<path d="M775.5 2164.0L841.3 2164.0"/>
<path d="M775.5 2164.0L783.0 2162.2L783.0 2165.8Z" fill="#222" stroke="none"/>
<path d="M841.3 2164.0L833.8 2165.8L833.8 2162.2Z" fill="#222" stroke="none"/>
<path d="M758.1 2187.5L859.5 2187.5"/>
<path d="M758.1 2187.5L765.6 2185.7L765.6 2189.3Z" fill="#222" stroke="none"/>
<path d="M859.5 2187.5L852.0 2189.3L852.0 2185.7Z" fill="#222" stroke="none"/>
<g fill="#2c2c2c" stroke="none" font-size="15.5">
<text x="808.8" y="2157.3" text-anchor="middle" textLength="31" lengthAdjust="spacingAndGlyphs">2.10</text>
<text x="808.8" y="2181.3" text-anchor="middle" textLength="33" lengthAdjust="spacingAndGlyphs">3.20</text>
<text transform="translate(885.9 2098.7) rotate(-90)" text-anchor="middle" textLength="30" lengthAdjust="spacingAndGlyphs">1.05</text>
<text transform="translate(908.5 2098.7) rotate(-90)" text-anchor="middle" textLength="34" lengthAdjust="spacingAndGlyphs">2.25</text>
</g>
</g>
<!--CIRCUIT_E-->
<!--PAD-->
</svg>
<div class="t" id="foot" style="left:52px;top:2240px;font-size:17.1px;font-weight:bold;font-style:italic;color:#1c1c1c;">Please follow drawing of Approved Sheet that catalog drawing only for reference.</div>
<svg class="abs" style="left:32px;top:2241px;" width="14" height="14" viewBox="-7 -7 14 14"><g stroke="#d8302c" stroke-width="2.1" stroke-linecap="round"><path d="M0 -5.4V5.4M-4.7 -2.7L4.7 2.7M-4.7 2.7L4.7 -2.7"/></g><g fill="#d8302c"><circle cx="0" cy="-5.4" r="1.6"/><circle cx="0" cy="5.4" r="1.6"/><circle cx="-4.7" cy="-2.7" r="1.6"/><circle cx="4.7" cy="2.7" r="1.6"/><circle cx="-4.7" cy="2.7" r="1.6"/><circle cx="4.7" cy="-2.7" r="1.6"/></g><circle r="1.5" fill="#efe7dd"/></svg>
</body>
</html>
